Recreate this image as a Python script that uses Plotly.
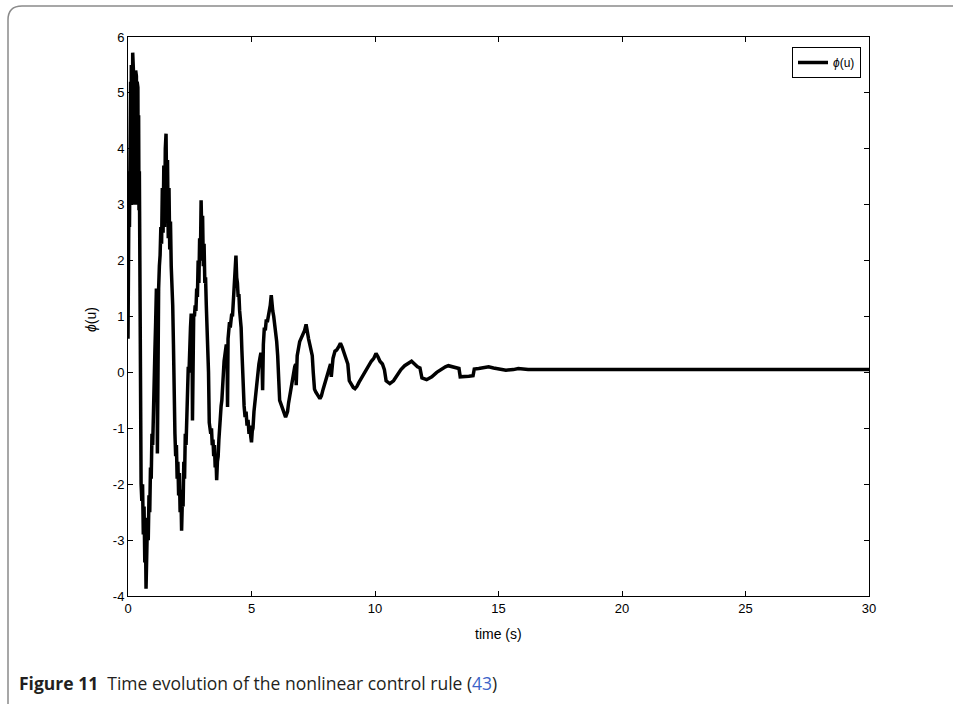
import plotly.graph_objects as go

# ---- data ----
t_s = [
    0, 0.015, 0.03, 0.045, 0.06, 0.075, 0.09, 0.105, 0.12, 0.135, 0.15, 0.165, 0.18, 0.19, 0.205, 0.22, 0.235, 0.25, 0.265, 0.28,
    0.295, 0.31, 0.325, 0.34, 0.355, 0.37, 0.385, 0.40, 0.415, 0.43, 0.445, 0.46, 0.475, 0.49,
    0.51, 0.53, 0.56, 0.59, 0.62, 0.65, 0.68, 0.71, 0.73, 0.76, 0.79, 0.82, 0.85, 0.88, 0.91, 0.94, 0.97, 1.0, 1.03, 1.06, 1.09, 1.12, 1.15, 1.17, 1.19, 1.21,
    1.24, 1.27, 1.30, 1.33, 1.36, 1.39, 1.42, 1.45, 1.48, 1.51, 1.54, 1.57, 1.60, 1.63, 1.66, 1.69, 1.72, 1.75, 1.78, 1.81, 1.84, 1.87,
    1.90, 1.93, 1.96, 1.99, 2.02, 2.05, 2.08, 2.11, 2.14, 2.17, 2.20, 2.23, 2.26, 2.29, 2.32, 2.35, 2.38, 2.41, 2.44, 2.47, 2.50, 2.53, 2.56, 2.59, 2.61,
    2.63, 2.66, 2.69, 2.72, 2.75, 2.78, 2.81, 2.84, 2.87, 2.90, 2.93, 2.96, 2.99, 3.02, 3.05, 3.08, 3.11, 3.14, 3.17, 3.20, 3.23, 3.26, 3.29,
    3.32, 3.35, 3.38, 3.41, 3.44, 3.47, 3.50, 3.53, 3.56, 3.59, 3.62, 3.65, 3.68, 3.71, 3.74, 3.77, 3.80, 3.83, 3.86, 3.89, 3.92, 3.95, 3.98, 4.01, 4.03,
    4.05, 4.08, 4.11, 4.14, 4.17, 4.20, 4.23, 4.26, 4.29, 4.32, 4.35, 4.37, 4.40, 4.43, 4.46, 4.49, 4.52, 4.55, 4.58, 4.61, 4.64, 4.67,
    4.70, 4.74, 4.78, 4.82, 4.86, 4.90, 4.94, 4.97, 5.00, 5.03, 5.06, 5.10, 5.14, 5.18, 5.22, 5.26, 5.30, 5.34, 5.38, 5.42, 5.45,
    5.48, 5.52, 5.56, 5.60, 5.64, 5.68, 5.72, 5.76, 5.80, 5.83, 5.86, 5.90, 5.94, 5.98, 6.02, 6.06, 6.10,
    6.14, 6.18, 6.22, 6.26, 6.30, 6.34, 6.38, 6.42, 6.46, 6.50, 6.55, 6.60, 6.65, 6.70, 6.75, 6.79, 6.81,
    6.85, 6.90, 6.95, 7.0, 7.05, 7.10, 7.15, 7.21, 7.26, 7.31, 7.36, 7.41, 7.46, 7.50,
    7.55, 7.60, 7.65, 7.70, 7.77, 7.83, 7.90, 7.97, 8.05, 8.12, 8.20, 8.23,
    8.30, 8.38, 8.45, 8.52, 8.60, 8.67, 8.75, 8.82, 8.90,
    8.96, 9.05, 9.12, 9.19, 9.27, 9.35, 9.45, 9.55, 9.65, 9.75, 9.85, 9.95, 10.04, 10.12, 10.2, 10.3, 10.38,
    10.45, 10.6, 10.75, 10.9, 11.05, 11.2, 11.35, 11.48, 11.6, 11.72, 11.82,
    11.9, 12.09, 12.3, 12.5, 12.7, 12.85, 12.97, 13.1, 13.25, 13.4, 13.45,
    13.6, 13.8, 13.97, 14.02, 14.2, 14.4, 14.6, 14.8, 15.0, 15.3, 15.6, 15.8, 16.2, 17, 18, 19, 20, 22, 24, 26, 28, 30,
]
phi_u = [
    0.6, 2.5, 1.9, 3.6, 2.6, 4.6, 3.0, 5.2, 3.0, 5.5, 3.1, 5.3, 3.0, 5.72, 3.1, 5.4, 3.0, 5.35, 3.2, 5.3,
    3.0, 5.4, 3.1, 5.3, 3.0, 5.2, 3.2, 5.1, 3.0, 4.6, 2.9, 3.6, 2.2, 1.0,
    -1.4, -2.0, -2.3, -2.0, -2.9, -2.4, -3.4, -3.0, -3.87, -3.3, -2.6, -3.0, -2.2, -2.5, -1.7, -1.9, -1.1, -1.3, -0.5, -0.2, 0.4, 0.9, 1.5, 1.45, -1.45, 1.3,
    1.5, 1.9, 2.1, 2.6, 2.3, 3.3, 2.5, 3.7, 2.6, 4.0, 4.27, 3.0, 3.8, 2.4, 3.3, 2.2, 2.7, 1.9, 1.6, 1.2, 0.5, -1.0,
    -1.1, -1.5, -1.3, -1.9, -1.6, -2.2, -1.8, -2.5, -2.1, -2.83, -2.3, -2.4, -1.6, -1.9, -1.1, -1.3, -0.6, -0.7, 0.1, 0.0, 0.6, 0.8, 1.05, 1.0, -0.86,
    0.9, 1.05, 1.0, 1.2, 1.1, 1.5, 1.35, 2.0, 1.6, 2.4, 2.0, 3.08, 2.4, 2.8, 1.9, 2.3, 1.6, 1.7, 1.2, 0.9, 0.4, 0.0, -0.9,
    -1.0, -1.1, -1.0, -1.3, -1.2, -1.5, -1.3, -1.7, -1.5, -1.93, -1.6, -1.5, -1.2, -0.9, -0.8, -0.6, -0.5, -0.2, -0.1, 0.2, 0.3, 0.5, 0.5, 0.4, -0.62,
    0.6, 0.7, 0.9, 0.8, 1.0, 1.05, 1.0, 1.2, 1.4, 1.6, 1.8, 2.09, 1.7, 1.6, 1.35, 1.4, 1.1, 1.0, 0.8, 0.4, 0.0, -0.5,
    -0.6, -0.8, -0.7, -0.95, -0.85, -1.1, -0.95, -1.15, -1.25, -1.05, -1.0, -0.7, -0.5, -0.4, -0.2, 0.0, 0.15, 0.25, 0.35, 0.3, -0.32,
    0.5, 0.8, 0.75, 0.95, 0.9, 1.0, 1.05, 1.2, 1.38, 1.2, 1.1, 1.0, 0.85, 0.75, 0.55, 0.3, -0.4,
    -0.5, -0.55, -0.6, -0.62, -0.7, -0.72, -0.8, -0.75, -0.7, -0.55, -0.4, -0.25, -0.1, 0.0, 0.1, 0.15, -0.23,
    0.3, 0.45, 0.55, 0.6, 0.65, 0.7, 0.75, 0.86, 0.7, 0.6, 0.5, 0.4, 0.3, 0.0,
    -0.3, -0.35, -0.4, -0.42, -0.47, -0.42, -0.3, -0.2, -0.05, 0.05, 0.15, -0.08,
    0.25, 0.38, 0.4, 0.45, 0.52, 0.45, 0.35, 0.25, 0.15,
    -0.15, -0.22, -0.27, -0.29, -0.25, -0.18, -0.1, -0.02, 0.05, 0.12, 0.2, 0.25, 0.34, 0.28, 0.2, 0.15, 0.05,
    -0.15, -0.2, -0.15, -0.05, 0.05, 0.12, 0.17, 0.2, 0.15, 0.1, 0.08,
    -0.1, -0.13, -0.08, 0.0, 0.06, 0.1, 0.12, 0.1, 0.08, 0.07, -0.08,
    -0.08, -0.07, -0.06, 0.06, 0.07, 0.09, 0.1, 0.08, 0.06, 0.04, 0.05, 0.07, 0.05, 0.05, 0.05, 0.06, 0.05, 0.05, 0.05, 0.05, 0.05, 0.05,
]
x_ticks = [0, 5, 10, 15, 20, 25, 30]
x_tick_labels = ["0", "5", "10", "15", "20", "25", "30"]
y_ticks = [-4, -3, -2, -1, 0, 1, 2, 3, 4, 5, 6]
y_tick_labels = ["-4", "-3", "-2", "-1", "0", "1", "2", "3", "4", "5", "6"]

assert len(t_s) == len(phi_u), (len(t_s), len(phi_u))

FONT = "Liberation Sans, Arial, sans-serif"

W, H = 955, 704
L, R, T, B = 128, 869, 37, 596


def px(x):
    return (x - L) / (R - L)


def py(y):
    return (B - y) / (B - T)


fig = go.Figure()
fig.add_trace(go.Scatter(
    x=t_s, y=phi_u, mode="lines", name="<i>ϕ</i>(u)",
    line=dict(color="black", width=3.5),
))

axis_common = dict(
    showgrid=False, zeroline=False, showline=True, linecolor="black", linewidth=1,
    mirror="ticks", ticks="inside", ticklen=5, tickcolor="black",
    tickfont=dict(family=FONT, size=13, color="black"),
)
fig.update_xaxes(range=[0, 30], tickvals=x_ticks, ticktext=x_tick_labels, **axis_common)
fig.update_yaxes(range=[-4, 6], tickvals=y_ticks, ticktext=y_tick_labels, **axis_common)

fig.update_layout(
    width=W, height=H,
    margin=dict(l=L, r=W - R, t=T, b=H - B, pad=0),
    paper_bgcolor="white", plot_bgcolor="white",
    showlegend=True,
    legend=dict(
        x=px(861), y=py(47), xanchor="right", yanchor="top",
        bgcolor="white", bordercolor="black", borderwidth=1,
        font=dict(family=FONT, size=12, color="black"),
        itemwidth=30, tracegroupgap=0,
    ),
    annotations=[
        dict(text="time (s)", x=0.5, y=py(634), xref="paper", yref="paper",
             showarrow=False, xanchor="center", yanchor="middle",
             font=dict(family=FONT, size=14, color="black")),
        dict(text="<i>ϕ</i>(u)", x=px(91), y=py(320), xref="paper", yref="paper",
             showarrow=False, xanchor="center", yanchor="middle", textangle=-90,
             font=dict(family=FONT, size=14, color="black")),
        dict(text="<b>Figure 11</b>  Time evolution of the nonlinear control rule (<span style='color:#3b63c9'>43</span>)",
             x=px(17), y=py(683), xref="paper", yref="paper",
             showarrow=False, xanchor="left", yanchor="middle",
             font=dict(family="Open Sans, Noto Sans, sans-serif", size=17.5, color="#231f20")),
    ],
    shapes=[
        dict(type="path", xref="paper", yref="paper",
             path=(f"M {px(8)} {py(704)} L {px(8)} {py(20)} "
                   f"Q {px(8)} {py(6)} {px(22)} {py(6)} L {px(953)} {py(6)}"),
             line=dict(color="#8a8a8a", width=1.5)),
    ],
)

fig.write_html(
    "out.html",
    config={"displayModeBar": False},
    post_script="document.body.style.margin='0px';document.body.style.padding='0px';",
)
